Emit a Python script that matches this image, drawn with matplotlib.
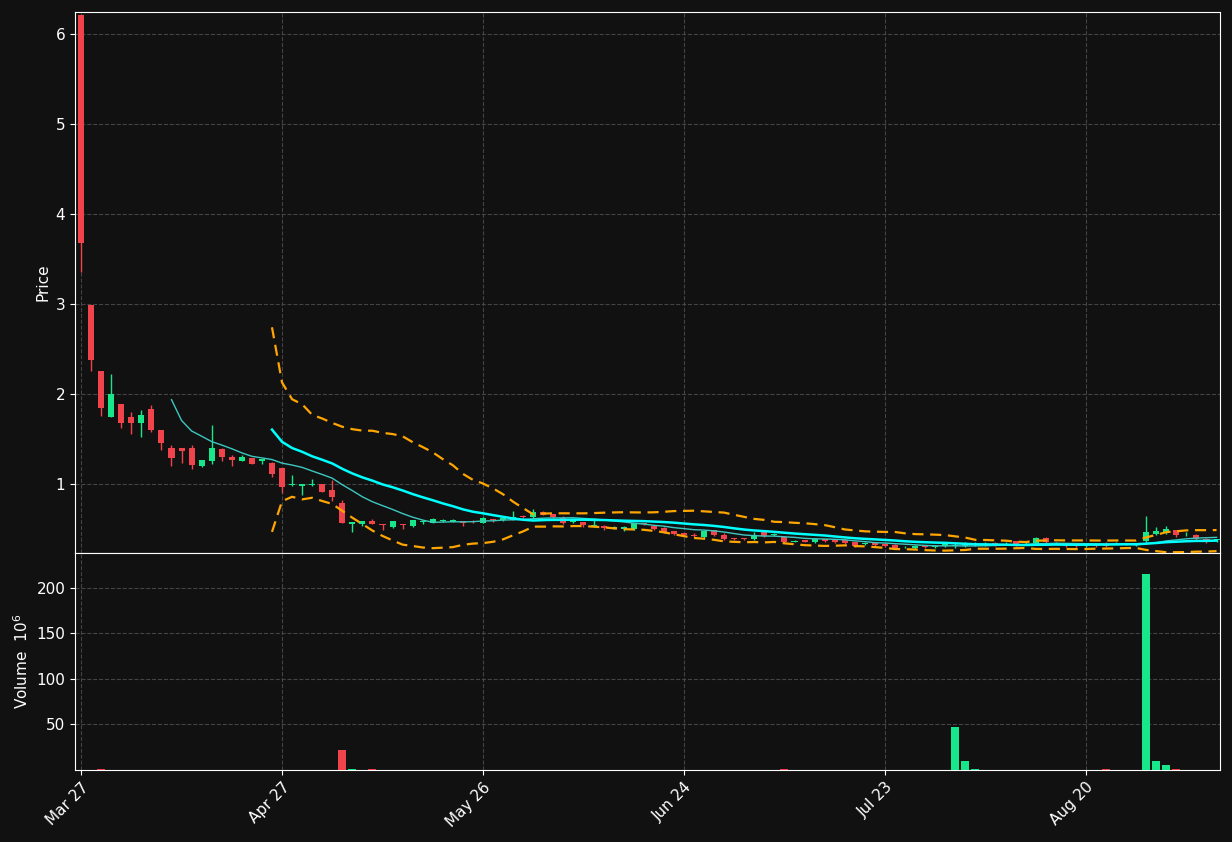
import numpy as np
import pandas as pd
import matplotlib
matplotlib.use("Agg")
import matplotlib.pyplot as plt

opens = [6.20,2.98,2.25,1.74,1.88,1.74,1.68,1.83,1.60,1.40,1.39,1.40,1.20,1.25,1.38,1.30,1.26,1.28,1.26,1.23,
         1.17,0.99,0.98,0.99,1.00,0.93,0.78,0.55,0.55,0.59,0.55,0.52,0.55,0.53,0.58,0.57,0.59,0.58,0.58,0.59,
         0.57,0.61,0.60,0.60,0.64,0.63,0.69,0.66,0.62,0.58,0.57,0.53,0.53,0.51,0.50,0.50,0.56,0.53,0.51,0.47,
         0.45,0.43,0.41,0.48,0.43,0.40,0.40,0.39,0.47,0.43,0.41,0.35,0.37,0.35,0.38,0.37,0.37,0.35,0.33,0.34,
         0.33,0.32,0.30,0.29,0.31,0.30,0.31,0.31,0.31,0.32,0.32,0.34,0.34,0.36,0.34,0.34,0.40,0.35,0.32,0.33,
         0.32,0.33,0.33,0.34,0.33,0.32,0.37,0.44,0.45,0.48,0.44,0.43,0.39,0.38]
highs = [6.20,2.98,2.25,2.22,1.88,1.80,1.82,1.88,1.60,1.43,1.39,1.43,1.26,1.65,1.40,1.32,1.32,1.29,1.27,1.24,
         1.17,1.10,1.00,1.06,1.00,1.04,0.82,0.57,0.58,0.61,0.55,0.58,0.55,0.60,0.60,0.62,0.61,0.61,0.59,0.60,
         0.63,0.61,0.63,0.70,0.66,0.72,0.70,0.67,0.64,0.61,0.58,0.60,0.54,0.53,0.53,0.57,0.57,0.54,0.52,0.48,
         0.46,0.45,0.49,0.49,0.45,0.40,0.40,0.47,0.48,0.46,0.42,0.38,0.38,0.40,0.39,0.38,0.38,0.36,0.35,0.35,
         0.34,0.33,0.31,0.32,0.31,0.32,0.34,0.35,0.36,0.35,0.35,0.35,0.35,0.36,0.36,0.41,0.41,0.36,0.33,0.34,
         0.33,0.34,0.35,0.35,0.34,0.33,0.64,0.52,0.53,0.49,0.47,0.44,0.40,0.39]
lows = [3.35,2.25,1.75,1.74,1.62,1.56,1.52,1.58,1.38,1.20,1.23,1.17,1.19,1.22,1.26,1.20,1.26,1.22,1.22,1.08,
        0.90,0.98,0.88,0.98,0.91,0.81,0.57,0.47,0.53,0.55,0.49,0.51,0.50,0.52,0.56,0.57,0.58,0.58,0.53,0.57,
        0.57,0.58,0.59,0.60,0.62,0.62,0.65,0.62,0.56,0.57,0.52,0.52,0.49,0.50,0.48,0.49,0.54,0.49,0.46,0.43,
        0.42,0.41,0.40,0.42,0.38,0.38,0.38,0.38,0.41,0.42,0.34,0.35,0.35,0.34,0.36,0.34,0.33,0.30,0.32,0.31,
        0.30,0.28,0.29,0.28,0.29,0.29,0.30,0.29,0.30,0.31,0.31,0.31,0.33,0.31,0.33,0.33,0.34,0.34,0.30,0.30,
        0.30,0.30,0.30,0.33,0.32,0.31,0.35,0.43,0.44,0.41,0.42,0.38,0.34,0.36]
closes = [3.68,2.38,1.84,2.00,1.68,1.68,1.76,1.60,1.45,1.29,1.37,1.21,1.26,1.40,1.30,1.27,1.30,1.22,1.27,1.11,
          0.97,1.00,1.00,1.00,0.91,0.86,0.57,0.57,0.58,0.56,0.54,0.58,0.54,0.60,0.59,0.61,0.60,0.60,0.57,0.58,
          0.62,0.60,0.62,0.63,0.63,0.69,0.66,0.63,0.57,0.60,0.54,0.54,0.51,0.52,0.52,0.56,0.55,0.50,0.47,0.44,
          0.43,0.42,0.47,0.43,0.39,0.39,0.39,0.43,0.42,0.44,0.35,0.36,0.36,0.38,0.37,0.35,0.34,0.31,0.34,0.32,
          0.31,0.29,0.30,0.31,0.30,0.31,0.33,0.32,0.32,0.33,0.33,0.32,0.34,0.32,0.35,0.40,0.35,0.35,0.31,0.31,
          0.32,0.31,0.31,0.34,0.33,0.32,0.46,0.47,0.50,0.43,0.44,0.39,0.35,0.38]
volumes = [0.5,0.5,1.0,0.5,0.5,0.5,0.5,0.5,0.5,0.5,0.5,0.5,0.5,0.5,0.5,0.5,0.5,0.5,0.5,0.5,
           0.5,0.5,0.5,0.5,0.5,0.5,22,0.8,0.5,1.0,0.5,0.5,0.5,0.5,0.5,0.5,0.5,0.5,0.5,0.5,
           0.5,0.5,0.5,0.5,0.5,0.5,0.5,0.5,0.5,0.5,0.5,0.5,0.5,0.5,0.5,0.5,0.5,0.5,0.5,0.5,
           0.5,0.5,0.5,0.5,0.5,0.5,0.5,0.5,0.5,0.5,1.0,0.5,0.5,0.5,0.5,0.5,0.5,0.5,0.5,0.5,
           0.5,0.5,0.5,0.5,0.5,0.5,0.5,47,10,1.0,0.5,0.5,0.5,0.5,0.5,0.5,0.5,0.5,0.5,0.5,
           0.5,0.5,1.0,0.5,0.5,0.5,215,10,5,1.0,0.5,0.5,0.5,0.5]
tick_labels = ["Mar 27", "Apr 27", "May 26", "Jun 24", "Jul 23", "Aug 20"]
tick_step = 20

BG = "#111111"
UP = "#17e68a"
DOWN = "#f0434c"

o = np.array(opens); h = np.array(highs); l = np.array(lows); c = np.array(closes)
v = np.array(volumes)
x = np.arange(len(c))
s = pd.Series(c)
ma10 = s.rolling(10).mean()
ma20 = s.rolling(20).mean()
sd20 = s.rolling(20).std(ddof=0)
up_b = ma20 + 2 * sd20
lo_b = ma20 - 2 * sd20

fig = plt.figure(figsize=(12.32, 8.42), dpi=100, facecolor=BG)
ax = fig.add_axes([0.0609, 0.3432, 0.929, 0.6425], facecolor=BG)
axv = fig.add_axes([0.0609, 0.0855, 0.929, 0.2577], facecolor=BG, sharex=ax)

colors = np.where(c >= o, UP, DOWN)
ax.vlines(x, l, h, colors=colors, linewidth=1, zorder=3)
ax.bar(x, np.abs(c - o) + 0.004, bottom=np.minimum(o, c), width=0.6, color=colors, zorder=4)
ax.plot(x, ma10, color="#3cc8c0", lw=1.0, zorder=5)
ax.plot(x, ma20, color="#00ffff", lw=1.8, zorder=5)
ax.plot(x, up_b, color="#ffa500", lw=1.6, ls=(0, (5, 3)), zorder=5)
ax.plot(x, lo_b, color="#ffa500", lw=1.6, ls=(0, (5, 3)), zorder=5)

axv.bar(x, v, width=0.8, color=colors, zorder=3)

for a in (ax, axv):
    a.grid(True, color="#444444", ls="--", lw=0.8)
    a.tick_params(colors="white", labelsize=11)
    for sp in a.spines.values():
        sp.set_color("white")
ax.set_xlim(-0.6, 113.3)
ax.set_ylim(0.233, 6.24)
ax.set_yticks([1, 2, 3, 4, 5, 6])
ax.set_ylabel("Price", color="white", fontsize=11)
plt.setp(ax.get_xticklabels(), visible=False)
ax.tick_params(axis="x", length=0)
axv.set_ylim(0, 238)
axv.set_yticks([50, 100, 150, 200])
axv.set_ylabel("Volume  $10^6$", color="white", fontsize=11)
axv.set_xticks(np.arange(len(tick_labels)) * tick_step)
axv.set_xticklabels(tick_labels, rotation=45, ha="right", rotation_mode="anchor")
fig.savefig("out.png", dpi=100, facecolor=BG)
